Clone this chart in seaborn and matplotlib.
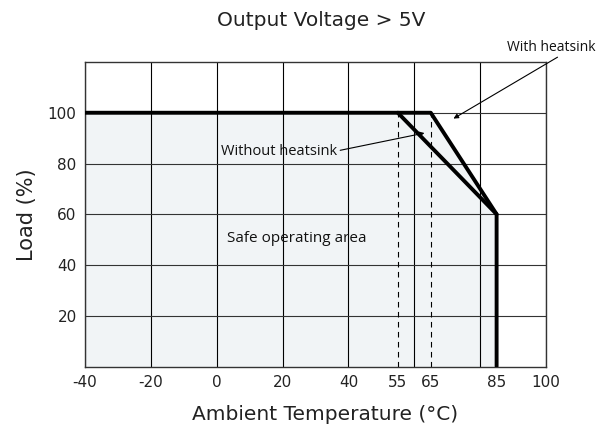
import matplotlib
matplotlib.use("Agg")
import matplotlib.pyplot as plt
import seaborn as sns
import pandas as pd

# data
no_hs_temp = [-40, 55, 85, 85]
no_hs_load = [100, 100, 60, 0]
hs_temp = [55, 65, 85]
hs_load = [100, 100, 60]
safe_temp = [-40, 65, 85]
safe_load = [100, 100, 60]
dash_temps = [55, 65]
x_ticks = [-40, -20, 0, 20, 40, 55, 65, 85, 100]
x_grid = [-40, -20, 0, 20, 40, 60, 80, 100]
y_ticks = [20, 40, 60, 80, 100]

sns.set_theme(style="white")
plt.rcParams['font.family'] = ['DejaVu Sans']
plt.rcParams['axes.unicode_minus'] = False

fig = plt.figure(figsize=(6.1, 4.28), dpi=100)
ax = fig.add_axes([85/610, 1-366.5/428, (546-85)/610, (366.5-62)/428])

ax.fill_between(safe_temp, safe_load, 0, color="#f1f4f6", zorder=0, linewidth=0)

for g in x_grid:
    ax.axvline(g, color="black", lw=0.8, zorder=1)
for g in y_ticks:
    ax.axhline(g, color="#333333", lw=0.8, zorder=1)
for d in dash_temps:
    ax.plot([d, d], [0, 100], color="black", lw=0.8, ls=(0, (5, 4)), zorder=2)

df1 = pd.DataFrame({"t": no_hs_temp, "l": no_hs_load})
df2 = pd.DataFrame({"t": hs_temp, "l": hs_load})
sns.lineplot(data=df1, x="t", y="l", sort=False, color="black", lw=2.8, ax=ax, zorder=3, estimator=None)
sns.lineplot(data=df2, x="t", y="l", sort=False, color="black", lw=2.8, ax=ax, zorder=3, estimator=None)

ax.set_xlim(-40, 100)
ax.set_ylim(0, 120)
ax.set_xticks(x_ticks)
ax.set_yticks(y_ticks)
ax.tick_params(axis="both", length=0, labelsize=11, colors="#222222", pad=6)
for s in ax.spines.values():
    s.set_color("#333333")
    s.set_linewidth(1.0)
    s.set_visible(True)

ax.set_xlabel("Ambient Temperature (°C)", fontsize=14.5, color="#222222")
ax.xaxis.set_label_coords((325 - 85) / 461, -0.125)
ax.set_ylabel("Load (%)", fontsize=15, color="#222222", labelpad=8)
fig.text(321 / 610, 0.952, "Output Voltage > 5V", ha="center", va="center", fontsize=14.5, color="#222222")

arrow = dict(arrowstyle="-|>", color="black", lw=0.8, mutation_scale=7, shrinkA=0, shrinkB=0)
ax.annotate("", xy=(71.9, 97.7), xytext=(103.5, 121.9), annotation_clip=False, arrowprops=arrow)
ax.text(101.6, 122.6, "With heatsink", ha="center", va="bottom", fontsize=10,
        family="Open Sans", color="#111111", clip_on=False)
ax.annotate("", xy=(63.1, 92.0), xytext=(37.5, 85.2), arrowprops=arrow)
ax.text(36.6, 84.6, "Without heatsink", ha="right", va="center", fontsize=10.5,
        family="Open Sans", color="#111111")
ax.text(24.4, 50.6, "Safe operating area", ha="center", va="center", fontsize=11,
        family="Open Sans", color="#111111", zorder=4)

fig.savefig("out.png", dpi=100)
